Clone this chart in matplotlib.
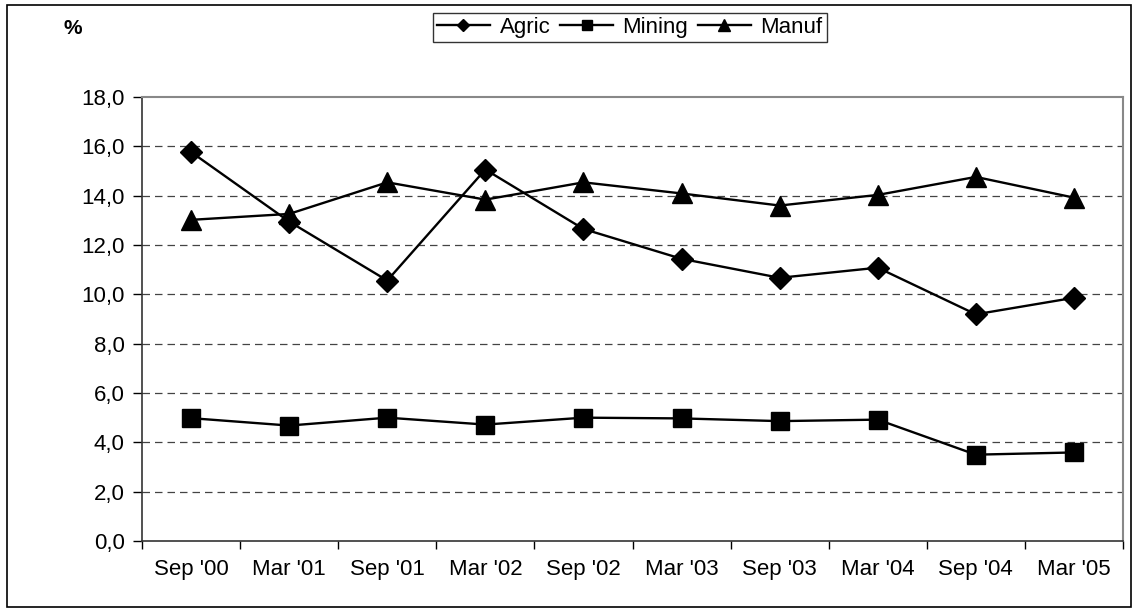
import matplotlib

matplotlib.use("Agg")
import matplotlib.pyplot as plt
from matplotlib.patches import Rectangle
from matplotlib.ticker import FixedLocator, FuncFormatter, MultipleLocator

plt.rcParams["font.family"] = ["Liberation Sans", "DejaVu Sans"]

periods = ["Sep '00", "Mar '01", "Sep '01", "Mar '02", "Sep '02",
           "Mar '03", "Sep '03", "Mar '04", "Sep '04", "Mar '05"]
agric = [15.77, 12.95, 10.56, 15.06, 12.65, 11.44, 10.67, 11.08, 9.19, 9.86]
mining = [4.98, 4.68, 5.0, 4.72, 5.0, 4.97, 4.86, 4.92, 3.5, 3.59]
manuf = [13.02, 13.26, 14.54, 13.84, 14.54, 14.09, 13.6, 14.03, 14.76, 13.92]

fig = plt.figure(figsize=(11.34, 6.12), dpi=100)
ax = fig.add_axes([142 / 1134, 1 - 541 / 612, (1123 - 142) / 1134, (541 - 97) / 612])

x = list(range(len(periods)))
ax.plot(x, agric, color="black", lw=1.7, marker="D", ms=11.5, label="Agric")
ax.plot(x, mining, color="black", lw=1.7, marker="s", ms=13, label="Mining")
ax.plot(x, manuf, color="black", lw=1.7, marker="^", ms=15, label="Manuf")

ax.set_xlim(-0.5, len(periods) - 0.5)
ax.set_ylim(0, 18)
ax.yaxis.set_major_locator(MultipleLocator(2))
ax.yaxis.set_major_formatter(FuncFormatter(lambda v, _: f"{v:.1f}".replace(".", ",")))
ax.set_xticks(x)
ax.set_xticklabels(periods)
ax.xaxis.set_minor_locator(FixedLocator([i - 0.5 for i in range(len(periods) + 1)]))
ax.tick_params(axis="x", which="major", length=0, pad=13, labelsize=16)
ax.tick_params(axis="x", which="minor", length=5.5, width=1, direction="out")
ax.tick_params(axis="y", length=6.5, width=1, direction="out", labelsize=16, pad=6)

for v in range(2, 18, 2):
    ax.axhline(v, color="#444444", lw=0.9, ls=(0, (6, 4)), zorder=0)

for side in ["top", "right"]:
    ax.spines[side].set_color("#888888")
    ax.spines[side].set_linewidth(1.5)
for side in ["left", "bottom"]:
    ax.spines[side].set_color("#333333")
    ax.spines[side].set_linewidth(1.2)

fig.text(73 / 1134, 1 - 28 / 612, "%", fontsize=15, fontweight="bold",
         ha="center", va="center")

leg = fig.legend(loc="center", bbox_to_anchor=(630 / 1134, 1 - 27.5 / 612), ncol=3,
                 fontsize=16, frameon=True, fancybox=False, edgecolor="black",
                 handlelength=2.35, handletextpad=0.45, columnspacing=0.45,
                 borderpad=0.2, borderaxespad=0, markerscale=0.55)
leg.get_frame().set_linewidth(1.0)

fig.patches.append(Rectangle((7 / 1134, 5 / 612), 1124 / 1134, 602 / 612,
                             transform=fig.transFigure, fill=False,
                             edgecolor="black", lw=1.2))

fig.savefig("out.png", dpi=100, facecolor="white")
